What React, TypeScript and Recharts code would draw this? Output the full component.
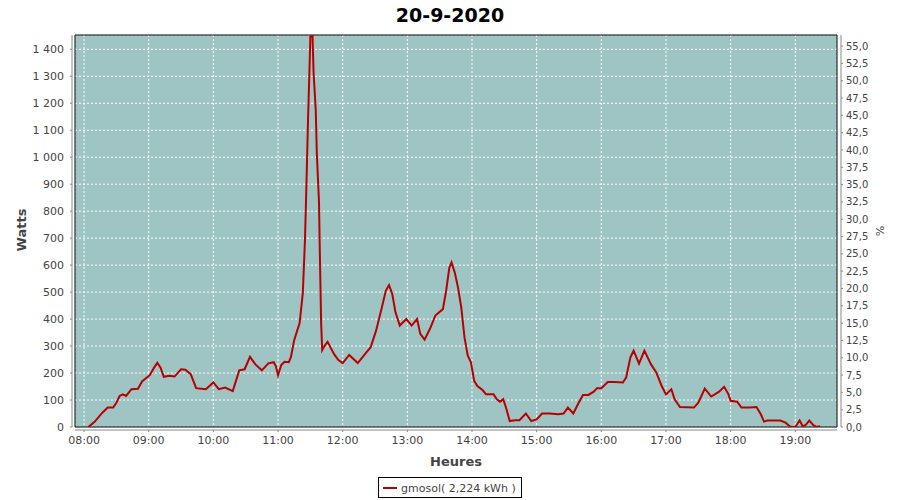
import { LineChart, Line, XAxis, YAxis, CartesianGrid, ReferenceArea } from 'recharts';

// readings of gmosol, 20-9-2020 (HH:MM -> watts)
const times = [
  '08:04', '08:10', '08:17', '08:22', '08:27', '08:30', '08:33', '08:36', '08:39', '08:44', '08:50', '08:54',
  '09:01', '09:05', '09:08', '09:11', '09:14', '09:19', '09:24', '09:30', '09:34', '09:39', '09:44', '09:53',
  '10:00', '10:05', '10:11', '10:18', '10:24', '10:29', '10:34', '10:39', '10:45', '10:51', '10:56', '10:58',
  '11:00', '11:03', '11:06', '11:10', '11:12', '11:15', '11:18', '11:20', '11:23', '11:25', '11:26', '11:27',
  '11:28', '11:29', '11:30', '11:32', '11:33', '11:35', '11:36', '11:38', '11:39', '11:40', '11:41', '11:43',
  '11:46', '11:52', '11:56', '12:00', '12:06', '12:14', '12:22', '12:26', '12:31', '12:36', '12:40', '12:43',
  '12:46', '12:49', '12:53', '12:59', '13:04', '13:09', '13:12', '13:16', '13:21', '13:26', '13:33', '13:36',
  '13:39', '13:41', '13:44', '13:47', '13:50', '13:53', '13:56', '13:59', '14:02', '14:05', '14:10', '14:13',
  '14:20', '14:23', '14:26', '14:29', '14:32', '14:35', '14:40', '14:44', '14:50', '14:55', '15:00', '15:05',
  '15:12', '15:20', '15:25', '15:29', '15:34', '15:39', '15:43', '15:48', '15:53', '15:56', '16:00', '16:06',
  '16:12', '16:20', '16:23', '16:27', '16:30', '16:35', '16:40', '16:46', '16:51', '16:56', '17:00', '17:05',
  '17:08', '17:13', '17:26', '17:30', '17:36', '17:42', '17:49', '17:54', '17:58', '18:00', '18:06', '18:10',
  '18:18', '18:24', '18:28', '18:31', '18:34', '18:40', '18:46', '18:51', '18:55', '18:58', '19:00', '19:04',
  '19:07', '19:10', '19:13', '19:17', '19:20', '19:23',
];

const watts = [
  0, 20, 53, 72, 72, 90, 115, 121, 115, 140, 142, 170,
  192, 220, 238, 220, 186, 190, 187, 214, 212, 196, 144, 140,
  165, 140, 146, 133, 210, 214, 260, 232, 210, 236, 240, 225,
  192, 230, 242, 240, 260, 322, 360, 384, 496, 693, 841, 1002,
  1163, 1298, 1447, 1450, 1312, 1175, 1015, 835, 600, 385, 285, 300,
  316, 270, 248, 237, 267, 237, 277, 296, 357, 437, 505, 526,
  493, 425, 376, 400, 376, 400, 345, 324, 364, 413, 437, 505,
  591, 610, 573, 517, 444, 333, 265, 240, 171, 152, 136, 121,
  121, 103, 94, 103, 66, 22, 25, 25, 50, 22, 28, 50,
  50, 47, 50, 72, 50, 90, 119, 119, 131, 144, 144, 167,
  167, 165, 183, 258, 283, 235, 283, 233, 202, 152, 121, 140,
  103, 74, 72, 90, 142, 113, 130, 149, 121, 97, 94, 72,
  72, 74, 47, 20, 24, 24, 24, 16, 2, 0, 0, 24,
  2, 9, 24, 6, 0, 3,
];

const hourTicks = ['08:00', '09:00', '10:00', '11:00', '12:00', '13:00', '14:00', '15:00', '16:00', '17:00', '18:00', '19:00'];
const wattTicks = [0, 100, 200, 300, 400, 500, 600, 700, 800, 900, 1000, 1100, 1200, 1300, 1400];
const pctTicks = [0, 2.5, 5, 7.5, 10, 12.5, 15, 17.5, 20, 22.5, 25, 27.5, 30, 32.5, 35, 37.5, 40, 42.5, 45, 47.5, 50, 52.5, 55];

const toMin = (t: string) => {
  const [h, m] = t.split(':').map(Number);
  return h * 60 + m;
};

const fmtHour = (v: number) => {
  const h = Math.floor(v / 60);
  const m = v % 60;
  return `${String(h).padStart(2, '0')}:${String(m).padStart(2, '0')}`;
};

const fmtWatts = (v: number) =>
  v >= 1000 ? `${Math.floor(v / 1000)} ${String(v % 1000).padStart(3, '0')}` : String(v);

const fmtPct = (v: number) => v.toFixed(1).replace('.', ',');

const data = times.map((t, i) => ({ t: toMin(t), w: watts[i] }));

const X_MIN = 471.6;
const X_MAX = 1178.7;
const W_MAX = 1453;
const P_MAX = 56.6;

const FONT = '"DejaVu Sans", Verdana, sans-serif';
const tickStyle = { fill: '#444', fontSize: 11, fontFamily: FONT };
const axisGrey = '#888';

export default function App() {
  return (
    <div style={{ position: 'absolute', left: 0, top: 0, width: 900, height: 500, background: '#fff', fontFamily: FONT }}>
      <LineChart width={900} height={500} data={data} margin={{ top: 35, right: 0, bottom: 0, left: 0 }}>
        <CartesianGrid yAxisId="w" fill="#9fc4c4" fillOpacity={1} stroke="#ffffff" strokeDasharray="2 2" />
        <XAxis
          dataKey="t"
          type="number"
          domain={[X_MIN, X_MAX]}
          allowDataOverflow
          ticks={hourTicks.map(toMin)}
          interval={0}
          tickFormatter={fmtHour}
          height={73}
          tickSize={2}
          tickMargin={7}
          tick={tickStyle}
          axisLine={{ stroke: axisGrey, transform: 'translate(0,3)' }}
          tickLine={{ stroke: axisGrey, transform: 'translate(0,3)' }}
        />
        <YAxis
          yAxisId="w"
          type="number"
          domain={[0, W_MAX]}
          allowDataOverflow
          ticks={wattTicks}
          interval={0}
          tickFormatter={fmtWatts}
          width={75}
          tickSize={2}
          tickMargin={9}
          tick={tickStyle}
          axisLine={{ stroke: axisGrey, transform: 'translate(-3,0)' }}
          tickLine={{ stroke: axisGrey, transform: 'translate(-3,0)' }}
        />
        <YAxis
          yAxisId="pct"
          orientation="right"
          type="number"
          domain={[0, P_MAX]}
          allowDataOverflow
          ticks={pctTicks}
          interval={0}
          tickFormatter={fmtPct}
          width={63}
          tickSize={2}
          tickMargin={7}
          tick={{ ...tickStyle, fontSize: 10 }}
          axisLine={{ stroke: axisGrey, transform: 'translate(4,0)' }}
          tickLine={{ stroke: axisGrey, transform: 'translate(4,0)' }}
        />
        <Line
          yAxisId="w"
          dataKey="w"
          type="linear"
          stroke="#b80000"
          strokeWidth={2}
          dot={false}
          isAnimationActive={false}
        />
        <ReferenceArea yAxisId="w" x1={X_MIN} x2={X_MAX} y1={0} y2={W_MAX} fill="none" stroke="#000" strokeWidth={1} />
      </LineChart>

      <svg width={900} height={500} style={{ position: 'absolute', left: 0, top: 0, pointerEvents: 'none' }}>
        <text x={450} y={22} textAnchor="middle" fontSize={19} fontWeight="bold" fill="#000" fontFamily={FONT}>
          20-9-2020
        </text>
        <text transform="translate(26,230) rotate(-90)" textAnchor="middle" fontSize={13} fontWeight="bold" fill="#444" fontFamily={FONT}>
          Watts
        </text>
        <text x={456} y={466} textAnchor="middle" fontSize={13} fontWeight="bold" fill="#444" fontFamily={FONT}>
          Heures
        </text>
        <text transform="translate(876,231) rotate(90)" textAnchor="middle" fontSize={11} fill="#444" fontFamily={FONT}>
          %
        </text>
        <rect x={378.5} y={477.5} width={143} height={20} fill="#fff" stroke="#000" />
        <line x1={383} x2={397} y1={488} y2={488} stroke="#b80000" strokeWidth={2} />
        <text x={401} y={492} fontSize={11} fill="#444" fontFamily={FONT}>
          gmosol( 2,224 kWh )
        </text>
      </svg>
    </div>
  );
}
